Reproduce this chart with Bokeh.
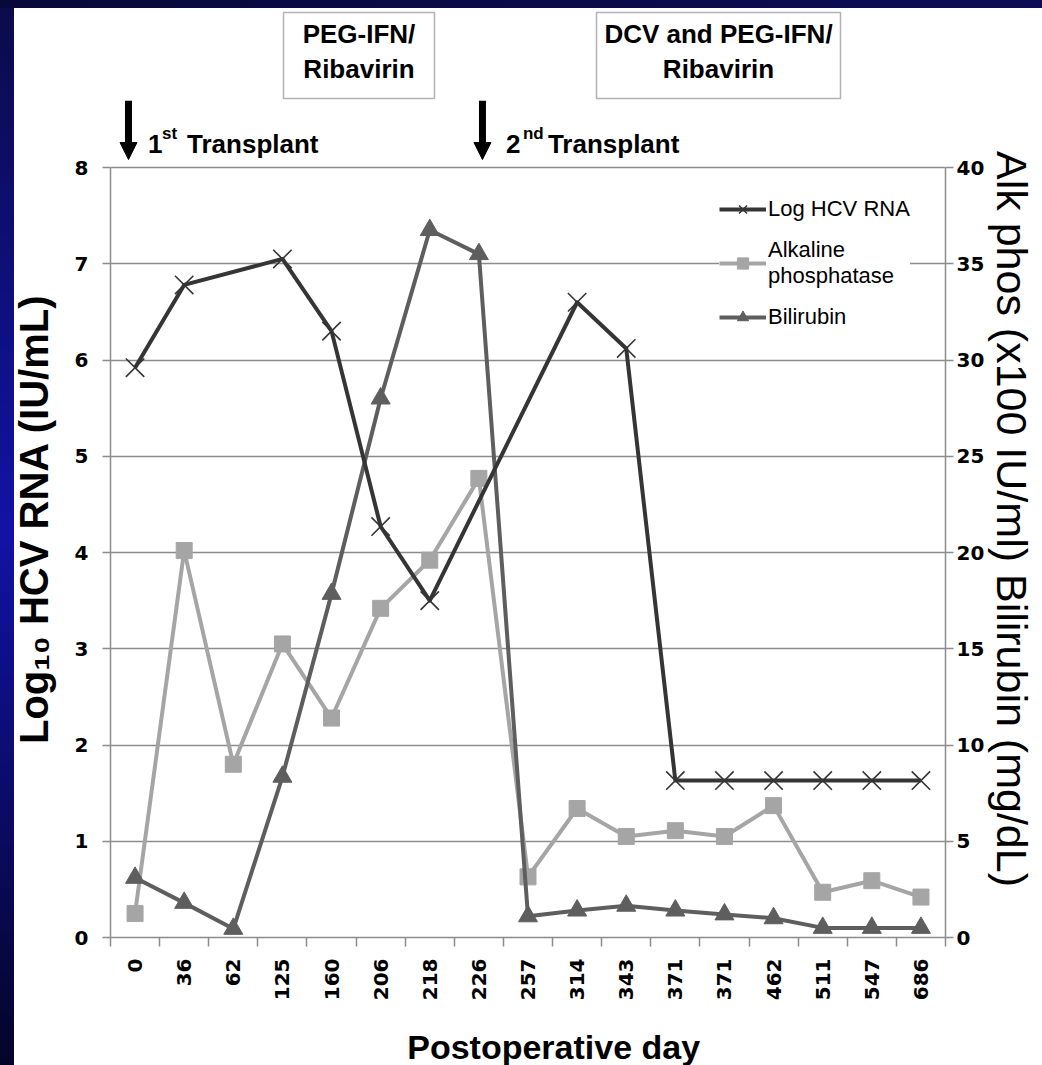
import math
from bokeh.plotting import figure
from bokeh.models import (Range1d, LinearAxis, FixedTicker, Legend, LegendItem,
                          BoxAnnotation, Label, Arrow, NormalHead)
from bokeh.layouts import column
from bokeh.embed import file_html
from bokeh.resources import INLINE

# ---------------- data ----------------
days = ["0", "36", "62", "125", "160", "206", "218", "226", "257", "314",
        "343", "371", "371", "462", "511", "547", "686"]
log_hcv_rna = [5.92, 6.78, None, 7.05, 6.30, 4.27, 3.50, None, None, 6.60,
               6.12, 1.63, 1.63, 1.63, 1.63, 1.63, 1.63]
alk_phos = [1.25, 20.1, 9.0, 15.25, 11.4, 17.1, 19.6, 23.85, 3.15, 6.7,
            5.25, 5.55, 5.25, 6.85, 2.35, 2.95, 2.1]
bilirubin = [3.1, 1.8, 0.45, 8.35, 17.85, 28.0, 36.75, 35.5, 1.1, 1.4,
             1.65, 1.4, 1.2, 1.0, 0.5, 0.5, 0.5]
left_ticks = [0, 1, 2, 3, 4, 5, 6, 7, 8]
right_ticks = [0, 5, 10, 15, 20, 25, 30, 35, 40]
treatments = ["PEG-IFN/\nRibavirin", "DCV and PEG-IFN/\nRibavirin"]
transplant_days = ["0", "226"]
x_title = "Postoperative day"
left_title = "Log\u2081\u2080 HCV RNA (IU/mL)"
right_title = "Alk phos (x100 IU/ml) Bilirubin (mg/dL)"

# ---------------- styling ----------------
TITLE_FONT = "Liberation Sans"
TICK_FONT = "DejaVu Sans"
GRID = "#8c8c8c"
C_HCV = "#353535"
C_ALK = "#a5a5a5"
C_BIL = "#5e5e5e"
SLIDE_BG = {"background":
            "linear-gradient(to right, #08083a, #0d0d55) 0 0 / 100% 8px no-repeat fixed, "
            "linear-gradient(to bottom, #0b0b4a, #1212a6 50%, #04042a) 0 0 / 14px 100% no-repeat fixed, "
            "#ffffff"}

W = 1042
n = len(days)
x_idx = list(range(n))
FRAME_L, FRAME_R = 110, 945
HEAD_H, MAIN_TOP, FRAME_B, MAIN_BOTTOM = 100, 100, 937, 1010
PX_X = (FRAME_R - FRAME_L) / n
PX_Y = 770 / 8.0
Y_TOP = (FRAME_B - MAIN_TOP) / PX_Y
R_SCALE = right_ticks[-1] / left_ticks[-1]


def xv(page_x):
    return (page_x - FRAME_L) / PX_X - 0.5


def yv(page_y):
    return (FRAME_B - page_y) / PX_Y


def bare_fig(h, **kw):
    f = figure(width=W, height=h, output_backend="svg", toolbar_location=None,
               x_axis_location=None, y_axis_location=None, styles=SLIDE_BG, **kw)
    f.outline_line_color = None
    f.border_fill_color = None
    f.background_fill_color = None
    f.grid.visible = False
    return f


# ---------------- header (treatment boxes) ----------------
head = bare_fig(HEAD_H, x_range=Range1d(-0.5, n - 0.5), y_range=Range1d(0, HEAD_H),
                min_border_left=FRAME_L, min_border_right=W - FRAME_R,
                min_border_top=0, min_border_bottom=0)
box_spans = [(xv(283), xv(434)), (xv(596), xv(840))]
for (l, r), txt in zip(box_spans, treatments):
    head.add_layout(BoxAnnotation(left=l, right=r, top=HEAD_H - 12, bottom=HEAD_H - 98,
                                  fill_color="white", fill_alpha=1.0,
                                  line_color="black", line_width=1.5))
    head.add_layout(Label(x=(l + r) / 2, y=HEAD_H - 51, text=txt, text_align="center",
                          text_baseline="middle", text_font=TITLE_FONT,
                          text_font_style="bold", text_font_size="26px",
                          text_line_height=1.15, text_color="black"))

# ---------------- main chart ----------------
p = figure(width=W, height=MAIN_BOTTOM - MAIN_TOP,
           x_range=Range1d(-0.5, n - 0.5), y_range=Range1d(0, Y_TOP),
           output_backend="svg", toolbar_location=None, styles=SLIDE_BG,
           min_border_left=FRAME_L, min_border_right=W - FRAME_R,
           min_border_top=0, min_border_bottom=MAIN_BOTTOM - FRAME_B)
p.extra_y_ranges = {"right": Range1d(0, Y_TOP * R_SCALE)}
p.outline_line_color = None
p.background_fill_color = "white"
p.border_fill_color = None

# x axis
xa = p.xaxis[0]
xa.ticker = FixedTicker(ticks=x_idx, minor_ticks=[i - 0.5 for i in range(n + 1)])
xa.major_label_overrides = {i: d for i, d in enumerate(days)}
xa.major_tick_out = 0
xa.major_tick_in = 0
xa.minor_tick_out = 9
xa.minor_tick_in = 0
xa.minor_tick_line_color = GRID
xa.minor_tick_line_width = 1.5
xa.axis_line_color = GRID
xa.axis_line_width = 1.5
xa.major_label_orientation = math.pi / 2
xa.major_label_standoff = 12
xa.major_label_text_font = TICK_FONT
xa.major_label_text_font_style = "bold"
xa.major_label_text_font_size = "20px"
xa.major_label_text_color = "black"

# left axis
ya = p.yaxis[0]
ya.ticker = FixedTicker(ticks=left_ticks)
ya.bounds = (left_ticks[0], left_ticks[-1])
ya.major_tick_out = 8
ya.major_tick_in = 0
ya.minor_tick_out = 0
ya.minor_tick_in = 0
ya.major_tick_line_color = GRID
ya.major_tick_line_width = 1.5
ya.axis_line_color = GRID
ya.axis_line_width = 1.5
ya.major_label_standoff = 14
ya.major_label_text_font = TICK_FONT
ya.major_label_text_font_style = "bold"
ya.major_label_text_font_size = "20px"
ya.major_label_text_color = "black"
ya.axis_label = left_title
ya.axis_label_text_font = TITLE_FONT
ya.axis_label_text_font_style = "bold"
ya.axis_label_text_font_size = "40px"
ya.axis_label_text_color = "black"
ya.axis_label_standoff = 16

# right axis
ra = LinearAxis(y_range_name="right", ticker=FixedTicker(ticks=right_ticks),
                bounds=(right_ticks[0], right_ticks[-1]))
ra.major_tick_out = 8
ra.major_tick_in = 0
ra.minor_tick_out = 0
ra.minor_tick_in = 0
ra.major_tick_line_color = GRID
ra.major_tick_line_width = 1.5
ra.axis_line_color = GRID
ra.axis_line_width = 1.5
ra.major_label_standoff = 3
ra.major_label_text_font = TICK_FONT
ra.major_label_text_font_style = "bold"
ra.major_label_text_font_size = "20px"
ra.major_label_text_color = "black"
ra.axis_label = right_title
ra.axis_label_text_font = TITLE_FONT
ra.axis_label_text_font_style = "normal"
ra.axis_label_text_font_size = "43px"
ra.axis_label_text_color = "black"
ra.axis_label_standoff = 1
p.add_layout(ra, "right")

# grid
p.xgrid.visible = False
p.ygrid.ticker = FixedTicker(ticks=left_ticks)
p.ygrid.grid_line_color = GRID
p.ygrid.grid_line_width = 1.5

# series
hcv_x = [i for i, v in zip(x_idx, log_hcv_rna) if v is not None]
hcv_y = [v for v in log_hcv_rna if v is not None]

alk_line = p.line(x_idx, alk_phos, y_range_name="right", line_color=C_ALK,
                  line_width=4, line_join="round")
alk_pts = p.scatter(x_idx, alk_phos, y_range_name="right", marker="square",
                    size=16, fill_color=C_ALK, line_color=C_ALK)
bil_line = p.line(x_idx, bilirubin, y_range_name="right", line_color=C_BIL,
                  line_width=4, line_join="round")
bil_pts = p.scatter(x_idx, bilirubin, y_range_name="right", marker="triangle",
                    size=19, fill_color=C_BIL, line_color=C_BIL)
hcv_line = p.line(hcv_x, hcv_y, line_color=C_HCV, line_width=4, line_join="round")
hcv_pts = p.scatter(hcv_x, hcv_y, marker="x", size=26, line_color=C_HCV,
                    line_width=1.6)

legend = Legend(items=[
    LegendItem(label="Log HCV RNA", renderers=[hcv_line, hcv_pts]),
    LegendItem(label="Alkaline\nphosphatase", renderers=[alk_line, alk_pts]),
    LegendItem(label="Bilirubin", renderers=[bil_line, bil_pts]),
], location=(609, 606))
legend.background_fill_color = "white"
legend.background_fill_alpha = 1.0
legend.border_line_color = None
legend.label_text_font = TITLE_FONT
legend.label_text_font_size = "22px"
legend.label_text_color = "black"
legend.label_text_line_height = 1.38
legend.glyph_width = 47
legend.glyph_height = 28
legend.label_standoff = 2
legend.padding = 8
legend.spacing = 14
legend.margin = 0
p.add_layout(legend)

# transplant arrows and labels
arrow_shift = [-0.134, 0.073]
sup = ["st", "nd"]
first = ["1", "2"]
offs = [(13, 27, 52), (27, 44, 69)]
for k, d in enumerate(transplant_days):
    xi = days.index(d)
    xa_ = xi + arrow_shift[k]
    p.add_layout(Arrow(x_start=xa_, y_start=Y_TOP, x_end=xa_, y_end=yv(159),
                       line_width=7, line_color="black",
                       end=NormalHead(size=17, fill_color="black", line_color="black",
                                      line_width=1)))
    o1, o2, o3 = offs[k]
    p.add_layout(Label(x=xi, y=yv(143), x_offset=o1, text=first[k],
                       text_baseline="alphabetic", text_font=TITLE_FONT,
                       text_font_style="bold", text_font_size="26px", text_color="black"))
    p.add_layout(Label(x=xi, y=yv(133), x_offset=o2, text=sup[k],
                       text_baseline="alphabetic", text_font=TITLE_FONT,
                       text_font_style="bold", text_font_size="17px", text_color="black"))
    p.add_layout(Label(x=xi, y=yv(143), x_offset=o3, text="Transplant",
                       text_baseline="alphabetic", text_font=TITLE_FONT,
                       text_font_style="bold", text_font_size="26px", text_color="black"))

# ---------------- x-axis title strip ----------------
FOOT_H = 1065 - MAIN_BOTTOM
foot = bare_fig(FOOT_H, x_range=Range1d(0, W), y_range=Range1d(0, FOOT_H),
                min_border_left=0, min_border_right=0,
                min_border_top=0, min_border_bottom=0)
foot.add_layout(Label(x=553, y=FOOT_H - (1046 - MAIN_BOTTOM), text=x_title,
                      text_align="center", text_baseline="middle", text_font=TITLE_FONT,
                      text_font_style="bold", text_font_size="34px", text_color="black"))

page = column(head, p, foot, spacing=0)
open("out.html", "w").write(file_html(page, INLINE))
